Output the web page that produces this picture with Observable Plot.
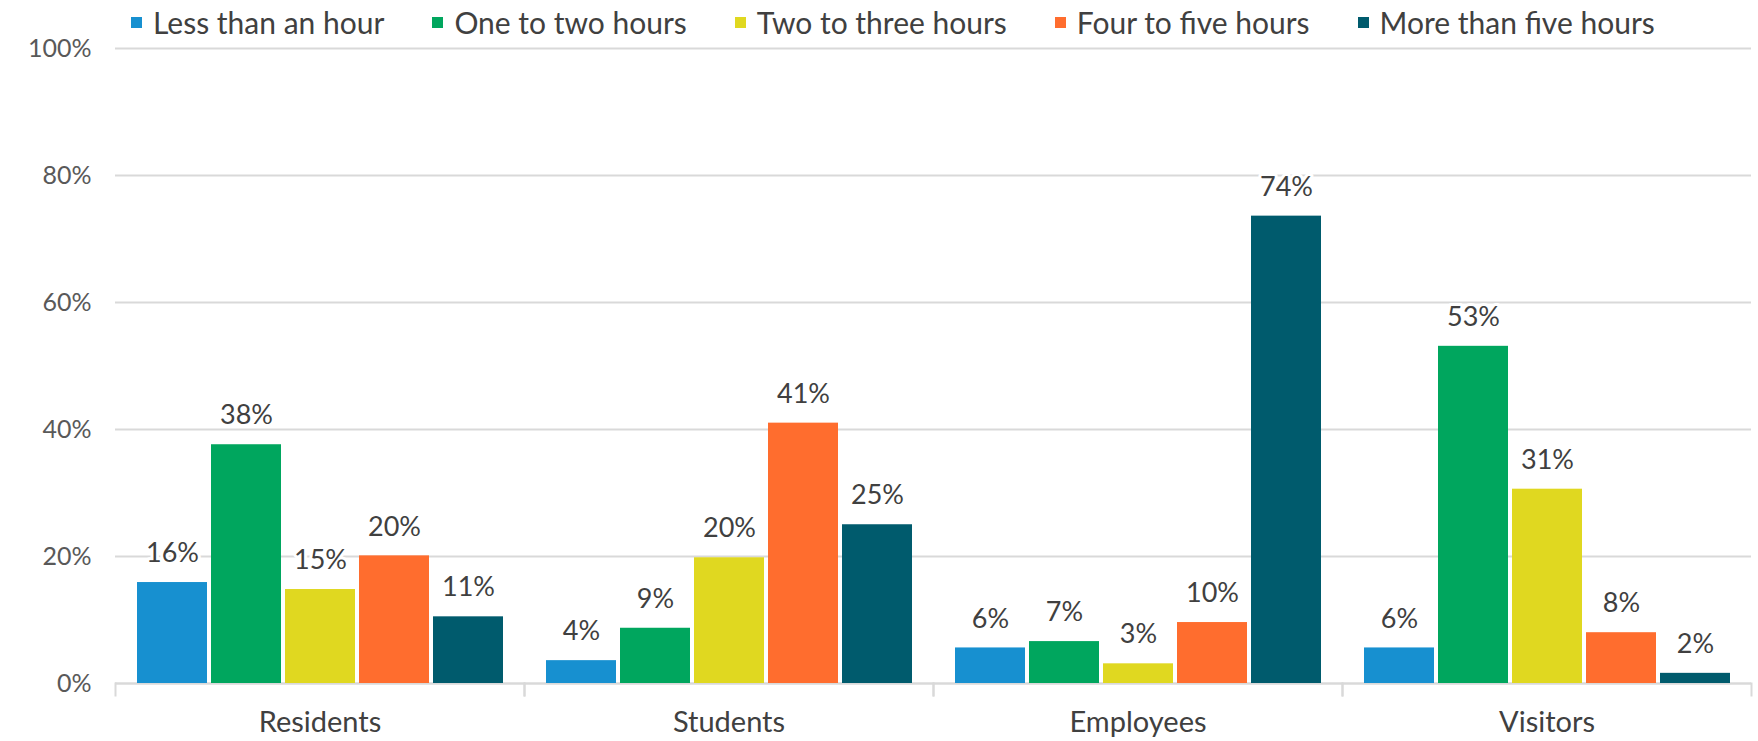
<!DOCTYPE html>
<html>
<head>
<meta charset="utf-8">
<script src="https://cdn.jsdelivr.net/npm/d3@7"></script>
<script src="https://cdn.jsdelivr.net/npm/@observablehq/plot@0.6"></script>
<style>
  html, body { margin: 0; padding: 0; background: #fff; }
  #wrap { position: relative; width: 1758px; height: 741px; font-family: Lato, "Open Sans", sans-serif; }
  #legend { position: absolute; top: 5px; left: 131px; display: flex; align-items: center; gap: 48px; font-size: 30px; color: #404040; line-height: 34px; }
  .item { display: flex; align-items: center; gap: 11px; }
  .sw { width: 11px; height: 11px; display: inline-block; }
  svg { display: block; }
</style>
</head>
<body>
<div id="wrap"><div id="legend"></div><div id="chart"></div></div>
<script>
const categories = ["Residents", "Students", "Employees", "Visitors"];
const seriesNames = ["Less than an hour", "One to two hours", "Two to three hours", "Four to five hours", "More than five hours"];
const colors = ["#1790D0", "#00A65E", "#E0D820", "#FF6D2E", "#005B6D"];
const residents = [0.159, 0.376, 0.148, 0.201, 0.105];
const students  = [0.036, 0.087, 0.198, 0.410, 0.250];
const employees = [0.056, 0.066, 0.031, 0.096, 0.736];
const visitors  = [0.056, 0.531, 0.306, 0.080, 0.016];
const yTicks = [0, 0.2, 0.4, 0.6, 0.8, 1.0];

const valuesByCat = [residents, students, employees, visitors];
const rows = [];
categories.forEach((c, ci) => seriesNames.forEach((s, si) => rows.push({category: c, series: s, value: valuesByCat[ci][si]})));

const W = 1758, H = 741, mt = 48, mb = 58, ml = 113, mr = 6;
const frameH = H - mt - mb;
const fmt = d3.format(".0%");
const lineColor = "#D9D9D9";

const chart = Plot.plot({
  width: W, height: H,
  marginTop: mt, marginBottom: mb, marginLeft: ml, marginRight: mr,
  style: {fontFamily: "Lato, 'Open Sans', sans-serif", background: "#fff", overflow: "visible"},
  fx: {domain: categories, padding: 0},
  x: {domain: seriesNames, paddingInner: 0.055, paddingOuter: 0.27, axis: null},
  y: {domain: [0, 1]},
  color: {domain: seriesNames, range: colors},
  marks: [
    Plot.gridY(yTicks, {stroke: lineColor, strokeOpacity: 1, strokeWidth: 2}),
    Plot.axisY(yTicks, {tickSize: 0, tickPadding: 24, tickFormat: fmt, fontSize: 25, fill: "#595959", label: null}),
    Plot.axisFx({anchor: "bottom", tickSize: 0, tickPadding: 28, fontSize: 29, fill: "#404040", label: null}),
    Plot.frame({anchor: "left", stroke: lineColor, strokeWidth: 2, insetTop: frameH, insetBottom: -12}),
    Plot.frame({anchor: "right", stroke: lineColor, strokeWidth: 2, insetTop: frameH, insetBottom: -12}),
    Plot.ruleY([0], {stroke: lineColor, strokeWidth: 2}),
    Plot.barY(rows, {fx: "category", x: "series", y: "value", fill: "series"}),
    Plot.text(rows, {fx: "category", x: "series", y: "value", text: d => fmt(d.value), dy: -29,
      fontSize: 27, fill: "#404040", stroke: "white", strokeWidth: 6})
  ]
});
document.getElementById("chart").appendChild(chart);

const legend = document.getElementById("legend");
seriesNames.forEach((s, i) => {
  const it = document.createElement("div");
  it.className = "item";
  it.innerHTML = `<span class="sw" style="background:${colors[i]}"></span><span>${s}</span>`;
  legend.appendChild(it);
});
</script>
</body>
</html>
